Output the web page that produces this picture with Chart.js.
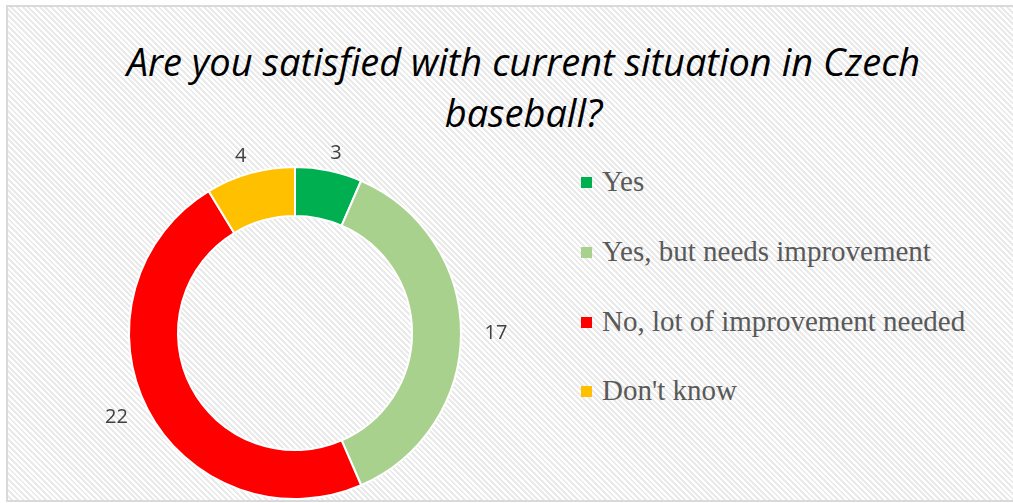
<!DOCTYPE html>
<html>
<head>
<meta charset="utf-8">
<script src="https://cdn.jsdelivr.net/npm/chart.js@4/dist/chart.umd.min.js"></script>
<style>
  html, body { margin: 0; padding: 0; background: #fff; }
  body { width: 1013px; height: 503px; position: relative; overflow: hidden; }
  #frame {
    position: absolute; left: 6px; top: 5px; width: 1020px; height: 493px;
    border: 2px solid #d9d9d9;
    background: repeating-linear-gradient(45deg, #ffffff 0px, #ffffff 2px, #eaeaea 2px, #eaeaea 4px);
  }
  #title {
    position: absolute; left: 0; width: 1047px; top: 36px; text-align: center;
    font-family: "Open Sans", sans-serif; font-style: italic; font-size: 38px;
    line-height: 51px; color: #000;
  }
  #legend {
    position: absolute; left: 581px; top: 147px; margin: 0; padding: 0; list-style: none;
  }
  canvas { position: absolute; left: 0; top: 0; }
</style>
</head>
<body>
<div id="frame"></div>
<div id="title">Are you satisfied with current situation in Czech<br>baseball?</div>
<ul id="legend"></ul>
<canvas id="chart" width="1013" height="503"></canvas>
<script>
const categories = ['Yes', 'Yes, but needs improvement', 'No, lot of improvement needed', "Don't know"];
const answers = [3, 17, 22, 4];
const colours = ['#00B050', '#A9D18E', '#FF0000', '#FFC000'];

const legend = document.getElementById('legend');

const ctx = document.getElementById('chart');
const chart = new Chart(ctx, {
  type: 'doughnut',
  data: {
    labels: categories,
    datasets: [{
      data: answers,
      backgroundColor: colours,
      borderColor: '#ffffff',
      borderWidth: 2,
    }],
  },
  options: {
    responsive: false,
    animation: false,
    events: [],
    cutout: '70.5%',
    layout: {
      padding: { left: 128, right: 551, top: 166, bottom: 3 },
    },
    plugins: {
      legend: { display: false },
      tooltip: { enabled: false },
      title: { display: false },
    },
  },
  plugins: [{
    id: 'htmlLegend',
    afterUpdate(c) {
      while (legend.firstChild) {
        legend.firstChild.remove();
      }
      const items = c.options.plugins.legend.labels.generateLabels(c);
      items.forEach((item) => {
        const li = document.createElement('li');
        li.style.display = 'flex';
        li.style.alignItems = 'center';
        li.style.height = '69.7px';
        // colour box
        const box = document.createElement('span');
        box.style.display = 'block';
        box.style.width = '11px';
        box.style.height = '11px';
        box.style.backgroundColor = item.fillStyle;
        box.style.marginRight = '10px';
        box.style.marginTop = '2px';
        // label
        const label = document.createElement('span');
        label.style.fontFamily = '"Liberation Serif", "Times New Roman", serif';
        label.style.fontSize = '29px';
        label.style.color = '#595959';
        label.appendChild(document.createTextNode(item.text));
        li.appendChild(box);
        li.appendChild(label);
        legend.appendChild(li);
      });
    },
  }, {
    id: 'valueLabels',
    afterDatasetsDraw(c) {
      const g = c.ctx;
      const meta = c.getDatasetMeta(0);
      g.save();
      g.font = '20px "Open Sans", sans-serif';
      g.fillStyle = '#404040';
      g.textAlign = 'center';
      g.textBaseline = 'middle';
      meta.data.forEach((arc, i) => {
        const p = arc.getProps(['x', 'y', 'startAngle', 'endAngle', 'outerRadius'], true);
        const mid = (p.startAngle + p.endAngle) / 2;
        // labels sit a bit further out sideways than up/down
        const rx = p.outerRadius + 35;
        const ry = p.outerRadius + 18;
        g.fillText(String(answers[i]), p.x + Math.cos(mid) * rx, p.y + Math.sin(mid) * ry);
      });
      g.restore();
    },
  }],
});
</script>
</body>
</html>
